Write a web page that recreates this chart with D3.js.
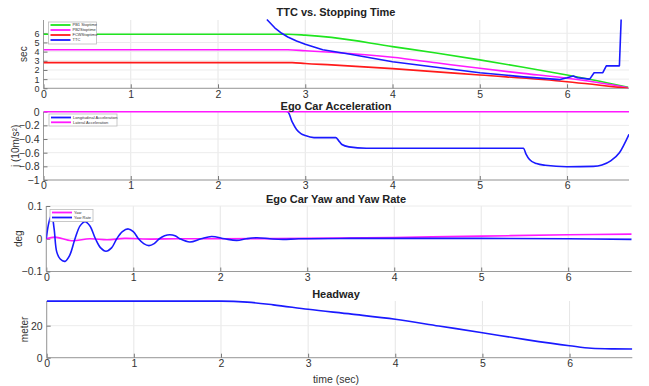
<!DOCTYPE html>
<html><head><meta charset="utf-8">
<script src="https://cdn.jsdelivr.net/npm/d3@7"></script>
<style>
body{margin:0;background:#fff;}
text{font-family:"Liberation Sans",Arial,sans-serif;}
</style></head>
<body>
<svg id="c" width="649" height="386"></svg>
<script>
// ---------- data ----------
const titles = ["TTC vs. Stopping Time","Ego Car Acceleration","Ego Car Yaw and Yaw Rate","Headway"];
const yLabels = ["sec","j (10m/s²)","deg","meter"];
const xTicks = [0,1,2,3,4,5,6];
const yTicks1 = [0,1,2,3,4,5,6];
const yTicks2 = [0,-0.2,-0.4,-0.6,-0.8,-1];
const yTicks3 = [-0.1,0,0.1];
const yTicks4 = [0,20];

const pb1Time = [0,2.8,3.0,3.3,4.0,4.5,5.0,5.5,6.0,6.3,6.7];
const pb1Vals = [5.9,5.9,5.8,5.55,4.55,3.85,3.1,2.3,1.45,0.9,0.1];
const pb2Time = [0,2.8,3.0,3.3,4.0,4.5,5.0,5.5,6.0,6.4,6.7];
const pb2Vals = [4.2,4.2,4.1,3.93,3.38,2.78,2.18,1.63,1.09,0.55,0.05];
const fcwTime = [0,2.85,3.0,3.3,4.0,5.0,6.0,6.7];
const fcwVals = [2.8,2.8,2.7,2.55,2.15,1.45,0.72,0.0];
const ttcTime = [2.56,2.65,2.73,2.8,2.9,3.0,3.1,3.2,3.5,4.0,4.5,5.0,5.5,5.92,6.0,6.07,6.12,6.26,6.31,6.41,6.45,6.6,6.62];
const ttcVals = [7.5,6.6,6.0,5.6,5.15,4.8,4.5,4.2,3.75,2.9,2.3,1.7,1.25,0.95,1.15,1.35,1.15,1.0,1.7,1.7,2.45,2.45,7.5];
const ttcLegend = ["PB1 Stoptime","PB2Stoptime","FCWStoptime","TTC"];

const lonTime = [0,2.8,2.85,2.9,2.95,3.0,3.1,3.35,3.38,3.42,3.5,3.7,5.5,5.53,5.57,5.65,5.75,6.0,6.3,6.4,6.5,6.6,6.71];
const lonVals = [0.6,0,-0.15,-0.26,-0.32,-0.35,-0.38,-0.38,-0.42,-0.48,-0.515,-0.535,-0.535,-0.62,-0.7,-0.76,-0.785,-0.805,-0.8,-0.78,-0.72,-0.6,-0.33];
const latTime = [0,6.71];
const latVals = [0,0];
const accLegend = ["Longitudinal Acceleration","Lateral Acceleration"];

const yawRateTime = [0,0.03,0.062,0.09,0.12,0.16,0.215,0.27,0.33,0.39,0.445,0.5,0.565,0.625,0.686,0.75,0.81,0.875,0.943,1.0,1.06,1.12,1.18,1.24,1.30,1.36,1.42,1.48,1.535,1.65,1.78,1.90,2.05,2.19,2.30,2.42,2.57,2.72,2.9,3.5,4,5,6,6.73];
const yawRateVals = [0,0.05,0.073,0.03,-0.04,-0.062,-0.069,-0.05,0,0.04,0.052,0.04,0,-0.028,-0.038,-0.028,0,0.022,0.030,0.022,0,-0.015,-0.021,-0.015,0,0.009,0.012,0.009,0,-0.010,0,0.007,0,-0.005,0,0.003,0,-0.002,0,0.001,0.001,0.001,0,-0.002];
const yawTime = [0,0.1,0.29,0.5,0.7,0.9,1.2,1.5,2,3,4,5,6,6.73];
const yawVals = [0,0.005,-0.006,0,-0.003,0.001,-0.001,0,0,0.001,0.004,0.008,0.012,0.014];
const yawLegend = ["Yaw","Yaw Rate"];

const hwTime = [0,2.0,2.3,2.6,3.0,3.5,4.0,4.5,5.0,5.5,6.0,6.25,6.5,6.72];
const hwVals = [35.3,35.3,34.7,33.0,30.2,27.2,24.0,19.8,15.6,11.3,7.5,5.9,5.5,5.4];
const timeLabel = "time (sec)";

// ---------- drawing ----------
const svg = d3.select("#c");
const zip = (t,v) => t.map((d,i)=>[d,v[i]]);
const C = {green:"#1fe51f", magenta:"#ff19ff", red:"#ff1a1a", blue:"#1a1aff"};

function panel(cfg, idx){
  const x = d3.scaleLinear().domain(cfg.xd).range(cfg.xr);
  const y = d3.scaleLinear().domain(cfg.yd).range(cfg.yr);
  const g = svg.append("g");
  const [x0,x1] = cfg.xr, [yb,yt] = cfg.yr;
  // grid
  g.selectAll(".vg").data(xTicks).enter().append("line")
    .attr("x1",d=>x(d)).attr("x2",d=>x(d)).attr("y1",yb).attr("y2",yt)
    .attr("stroke","#e6e6e6").attr("stroke-width",1);
  g.selectAll(".hg").data(cfg.yt).enter().append("line")
    .attr("x1",x0).attr("x2",x1).attr("y1",d=>y(d)).attr("y2",d=>y(d))
    .attr("stroke","#ececec").attr("stroke-width",1);
  // axes
  const xa = g.append("g").attr("transform",`translate(0,${yb})`)
    .call(d3.axisBottom(x).tickValues(xTicks).tickSize(-4).tickPadding(2).tickFormat(d3.format("d")));
  const ya = g.append("g").attr("transform",`translate(${x0},0)`)
    .call(d3.axisLeft(y).tickValues(cfg.yt).tickSize(-4).tickPadding(4).tickFormat(d=>d3.format("")(+d.toFixed(2))));
  [xa,ya].forEach(a=>{
    a.select(".domain").attr("stroke","#9a9a9a");
    a.selectAll(".tick line").attr("stroke","#777");
    a.selectAll(".tick text").attr("fill","#333").style("font-size","10.5px").style("font-family","Liberation Sans, Arial, sans-serif");
  });
  if(cfg.yFont) ya.selectAll(".tick text").style("font-size",cfg.yFont);
  ya.select(".domain").attr("d",`M0,${yb}V${yt}`);
  xa.select(".domain").attr("d",`M${x0},0H${x1}`);
  // clip
  const cid = "clip"+idx;
  svg.append("clipPath").attr("id",cid).append("rect")
    .attr("x",x0).attr("y",cfg.clipTop).attr("width",x1-x0).attr("height",yb-cfg.clipTop);
  const lg = g.append("g").attr("clip-path",`url(#${cid})`);
  const baseCurve = cfg.curve || d3.curveMonotoneX;
  cfg.series.forEach(s=>{
    const line = d3.line().x(d=>x(d[0])).y(d=>y(d[1])).curve(s.curve || baseCurve);
    lg.append("path").attr("d", line(zip(s.t,s.v)))
      .attr("fill","none").attr("stroke",s.c).attr("stroke-width",s.w||1.6).attr("stroke-linejoin","round");
  });
  // title
  svg.append("text").attr("x",cfg.tx).attr("y",cfg.ty).attr("text-anchor","middle")
    .style("font-size","11px").style("font-weight","bold").attr("fill","#222").text(titles[idx]);
  // ylabel
  svg.append("text").attr("transform",`translate(${cfg.lx},${(yb+yt)/2}) rotate(-90)`)
    .attr("text-anchor","middle").style("font-size","10px").attr("fill","#333").text(yLabels[idx]);
  // legend
  if(cfg.leg){
    const L = cfg.leg;
    const lgG = svg.append("g");
    lgG.append("rect").attr("x",L.x).attr("y",L.y).attr("width",L.w).attr("height",L.h)
      .attr("fill","#fff").attr("stroke","#bbb").attr("stroke-width",0.8);
    L.items.forEach((it,i)=>{
      const yy = L.y + L.first + i*L.step;
      lgG.append("line").attr("x1",L.x+2).attr("x2",L.x+22).attr("y1",yy).attr("y2",yy)
        .attr("stroke",it.c).attr("stroke-width",1.8);
      lgG.append("text").attr("x",L.x+24).attr("y",yy+1.3).style("font-size","4px").attr("fill","#333").text(it.t);
    });
  }
}

panel({xd:[0,6.71],xr:[43.5,629],yd:[0,7.45],yr:[88.3,20],yt:yTicks1,clipTop:19,tx:336,ty:16,lx:27,yFont:"9px",
  series:[
    {t:pb1Time,v:pb1Vals,c:C.green},
    {t:pb2Time,v:pb2Vals,c:C.magenta},
    {t:fcwTime,v:fcwVals,c:C.red},
    {t:ttcTime,v:ttcVals,c:C.blue,curve:d3.curveLinear}
  ],
  leg:{x:48.5,y:22,w:48,h:22,first:3,step:5,items:[
    {t:ttcLegend[0],c:C.green},{t:ttcLegend[1],c:C.magenta},{t:ttcLegend[2],c:C.red},{t:ttcLegend[3],c:C.blue}]}
},0);

panel({xd:[0,6.71],xr:[43.5,629],yd:[-1,0],yr:[180,111.7],yt:yTicks2,clipTop:111,tx:336,ty:109.5,lx:19,
  series:[
    {t:lonTime,v:lonVals,c:C.blue,curve:d3.curveMonotoneX},
    {t:latTime,v:latVals,c:C.magenta}
  ],
  leg:{x:49,y:114,w:68,h:12,first:3.5,step:4.8,items:[
    {t:accLegend[0],c:C.blue},{t:accLegend[1],c:C.magenta}]}
},1);

panel({xd:[0,6.73],xr:[46.3,631.7],yd:[-0.1,0.1],yr:[271.5,206],yt:yTicks3,clipTop:204,tx:336,ty:203,lx:22,
  curve:d3.curveCatmullRom.alpha(0.5),
  series:[
    {t:yawTime,v:yawVals,c:C.magenta},
    {t:yawRateTime,v:yawRateVals,c:C.blue}
  ],
  leg:{x:50,y:209.5,w:43,h:12,first:3,step:5,items:[
    {t:yawLegend[0],c:C.magenta},{t:yawLegend[1],c:C.blue}]}
},2);

panel({xd:[0,6.72],xr:[46.7,632.3],yd:[0,35.4],yr:[357.7,301],yt:yTicks4,clipTop:298,tx:336,ty:298,lx:28,
  series:[{t:hwTime,v:hwVals,c:C.blue}]
},3);

svg.append("text").attr("x",336).attr("y",383).attr("text-anchor","middle")
  .style("font-size","10.5px").attr("fill","#333").text(timeLabel);
</script>
</body></html>
